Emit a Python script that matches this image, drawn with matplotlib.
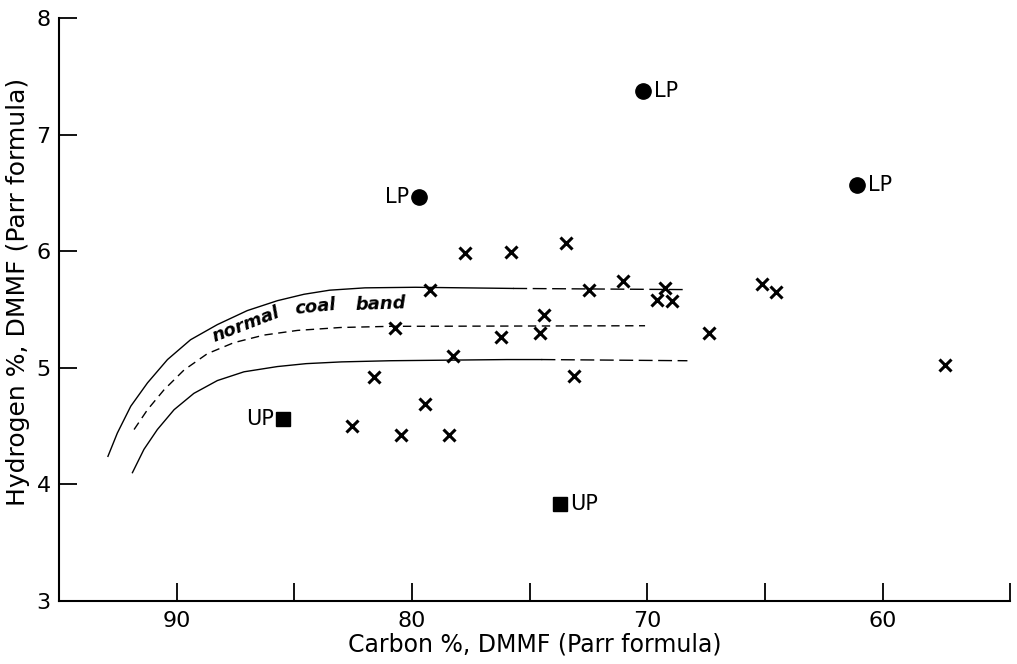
import numpy as np
import matplotlib
matplotlib.use("Agg")
import matplotlib.pyplot as plt

plt.rcParams['font.family'] = ['DejaVu Sans']

# samples (x markers): carbon %, hydrogen %
carbon_x = [79.24, 77.73, 75.79, 73.44, 72.49, 71.04, 69.27, 69.59, 68.95, 74.40,
            74.57, 76.21, 78.27, 80.73, 81.62, 79.43, 82.54, 80.49, 78.44, 73.1,
            67.40, 65.13, 64.52, 57.35]
hydrogen_x = [5.67, 5.98, 5.99, 6.07, 5.67, 5.74, 5.68, 5.58, 5.57, 5.45,
              5.30, 5.26, 5.10, 5.34, 4.92, 4.69, 4.50, 4.42, 4.42, 4.93,
              5.30, 5.72, 5.65, 5.02]

# LP (filled circles) and UP (filled squares)
lp_carbon = [70.2, 79.7, 61.1]
lp_hydrogen = [7.37, 6.46, 6.57]
up_carbon = [85.5, 73.7]
up_hydrogen = [4.56, 3.83]

# normal coal band: upper and lower limits, centre line
upper_c = [92.92, 92.52, 91.95, 91.24, 90.39, 89.41, 88.27, 87.0, 85.72, 84.59,
           83.5, 82.0, 79.85, 75.7]
upper_h = [4.24, 4.44, 4.67, 4.87, 5.07, 5.24, 5.37, 5.49, 5.575, 5.63,
           5.665, 5.685, 5.69, 5.68]
upper_ext_c = [75.7, 68.3]
upper_ext_h = [5.68, 5.67]

mid_c = [91.81, 91.24, 90.54, 89.69, 88.7, 87.57, 86.29, 84.87, 83.04, 80.91, 70.1]
mid_h = [4.47, 4.64, 4.81, 4.98, 5.12, 5.215, 5.28, 5.32, 5.345, 5.355, 5.36]

lower_c = [91.88, 91.39, 90.82, 90.11, 89.27, 88.27, 87.14, 85.72, 84.5, 83.0,
           80.91, 75.96, 74.5]
lower_h = [4.10, 4.30, 4.47, 4.64, 4.78, 4.89, 4.965, 5.01, 5.035, 5.05,
           5.06, 5.07, 5.07]
lower_ext_c = [74.5, 68.3]
lower_ext_h = [5.07, 5.06]

fig = plt.figure(figsize=(10.17, 6.64), dpi=100)
ax = fig.add_axes([0.058, 0.095, 0.935, 0.878])

# band curves
ax.plot(upper_c, upper_h, color='black', lw=1.0)
ax.plot(upper_ext_c, upper_ext_h, color='black', lw=1.0, dashes=(10, 4))
ax.plot(mid_c, mid_h, color='black', lw=1.0, dashes=(6, 4))
ax.plot(lower_c, lower_h, color='black', lw=1.0)
ax.plot(lower_ext_c, lower_ext_h, color='black', lw=1.0, dashes=(10, 4))

# points
ax.plot(carbon_x, hydrogen_x, 'x', color='black', ms=9, mew=2.2)
ax.plot(lp_carbon, lp_hydrogen, 'o', color='black', ms=11)
ax.plot(up_carbon, up_hydrogen, 's', color='black', ms=9.5)

# point labels
lab = dict(fontsize=15, va='center')
ax.annotate('LP', (lp_carbon[0], lp_hydrogen[0]), xytext=(8, 0), textcoords='offset points', ha='left', **lab)
ax.annotate('LP', (lp_carbon[1], lp_hydrogen[1]), xytext=(-7, 0), textcoords='offset points', ha='right', **lab)
ax.annotate('LP', (lp_carbon[2], lp_hydrogen[2]), xytext=(8, 0), textcoords='offset points', ha='left', **lab)
ax.annotate('UP', (up_carbon[0], up_hydrogen[0]), xytext=(-6, 0), textcoords='offset points', ha='right', **lab)
ax.annotate('UP', (up_carbon[1], up_hydrogen[1]), xytext=(7, 0), textcoords='offset points', ha='left', **lab)

# band label
band = dict(fontsize=13, fontweight='bold', style='italic', ha='center', va='center',
            rotation_mode='anchor')
ax.text(87.07, 5.37, 'normal', rotation=21, **band)
ax.text(84.1, 5.52, 'coal', rotation=6, **band)
ax.text(81.34, 5.545, 'band', rotation=2, **band)

# axes
ax.set_xlim(95, 54.6)
ax.set_ylim(3, 8)
ax.set_xticks([90, 80, 70, 60])
ax.set_xticks([85, 75, 65, 54.6], minor=True)
ax.set_yticks([3, 4, 5, 6, 7, 8])
for s in ['top', 'right']:
    ax.spines[s].set_visible(False)
for s in ['left', 'bottom']:
    ax.spines[s].set_linewidth(1.5)
ax.tick_params(axis='both', which='both', direction='in', length=13, width=1.3, labelsize=16)
ax.tick_params(axis='x', pad=7)
ax.tick_params(axis='y', pad=6)

ax.set_xlabel('Carbon %, DMMF (Parr formula)', fontsize=17, labelpad=1)
ax.set_ylabel('Hydrogen %, DMMF (Parr formula)', fontsize=18)
ax.yaxis.set_label_coords(-0.030, 0.53)

plt.savefig('out.png', dpi=100)
